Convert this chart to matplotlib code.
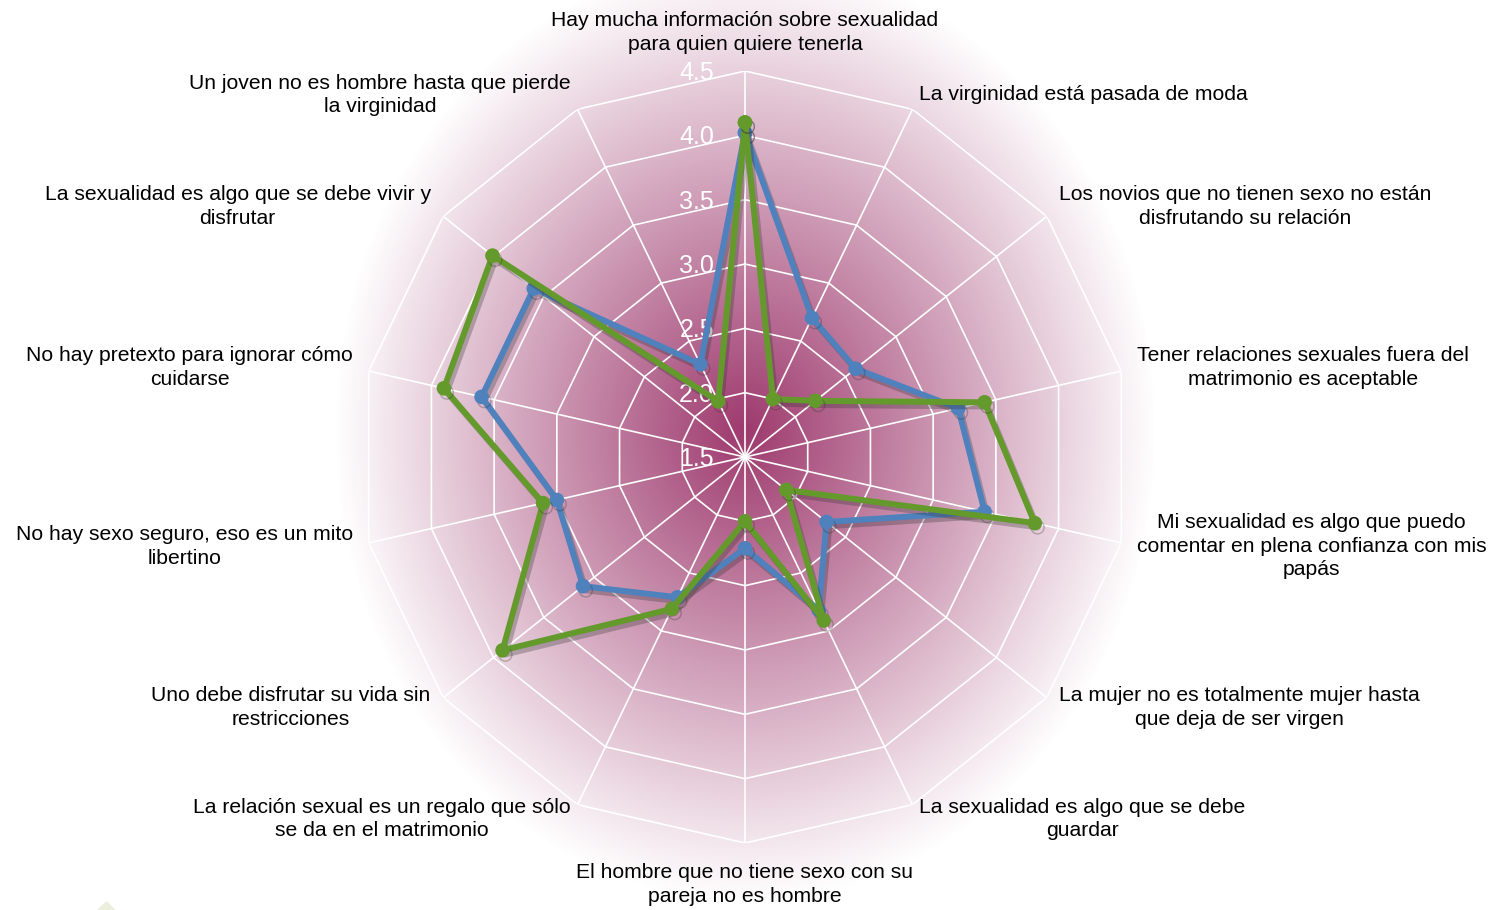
# Radar chart: percepciones sobre sexualidad (dos grupos)
import numpy as np
import matplotlib
matplotlib.use("Agg")
import matplotlib.pyplot as plt
import matplotlib.patheffects as pe
from matplotlib.patches import Polygon

plt.rcParams['font.family'] = ['Liberation Sans', 'DejaVu Sans']

# datos
categorias = [
    "Hay mucha información sobre sexualidad\npara quien quiere tenerla",
    "La virginidad está pasada de moda",
    "Los novios que no tienen sexo no están\ndisfrutando su relación",
    "Tener relaciones sexuales fuera del\nmatrimonio es aceptable",
    "Mi sexualidad es algo que puedo\ncomentar en plena confianza con mis\npapás",
    "La mujer no es totalmente mujer hasta\nque deja de ser virgen",
    "La sexualidad es algo que se debe\nguardar",
    "El hombre que no tiene sexo con su\npareja no es hombre",
    "La relación sexual es un regalo que sólo\nse da en el matrimonio",
    "Uno debe disfrutar su vida sin\nrestricciones",
    "No hay sexo seguro, eso es un mito\nlibertino",
    "No hay pretexto para ignorar cómo\ncuidarse",
    "La sexualidad es algo que se debe vivir y\ndisfrutar",
    "Un joven no es hombre hasta que pierde\nla virginidad",
]
serie_azul = [4.02, 2.70, 2.60, 3.20, 3.41, 2.31, 2.82, 2.21, 2.71, 3.11, 3.00, 3.60, 3.60, 2.30]
serie_verde = [4.10, 2.00, 2.20, 3.41, 3.81, 1.91, 2.91, 2.00, 2.81, 3.91, 3.11, 3.90, 4.01, 1.98]
ticks = [1.5, 2.0, 2.5, 3.0, 3.5, 4.0, 4.5]

W, H = 1504, 910
fig = plt.figure(figsize=(W / 100, H / 100), dpi=100)

# fondo con degradado radial (magenta -> blanco)
bg = fig.add_axes([0, 0, 1, 1])
yy, xx = np.mgrid[0:H, 0:W]
d = np.sqrt(((xx - 745) / 410.0) ** 2 + ((yy - 430) / 470.0) ** 2)
f = np.clip(1 - d, 0, 1)
oscuro = np.array([158, 58, 110]) / 255.0
img = np.ones((H, W, 3)) - f[..., None] * (1 - oscuro)
bg.imshow(img, extent=[0, W, H, 0], aspect='auto')
bg.axis('off')

# pequeno triangulo decorativo abajo a la izquierda
fig.patches.append(Polygon([[97 / W, 0], [116 / W, 0], [106.5 / W, 9 / H]],
                           closed=True, transform=fig.transFigure,
                           facecolor='#EBEFDC', edgecolor='none'))

cx, cy, R = 745, 457, 386
ax = fig.add_axes([(cx - R) / W, (H - cy - R) / H, 2 * R / W, 2 * R / H],
                  projection='polar')
ax.patch.set_alpha(0)
ax.set_theta_zero_location('N')
ax.set_theta_direction(-1)
ax.set_ylim(1.5, 4.5)
ax.set_xticks([])
ax.set_yticks([])
ax.grid(False)
ax.spines['polar'].set_visible(False)

n = len(categorias)
ang = np.linspace(0, 2 * np.pi, n, endpoint=False)
ang_c = np.append(ang, ang[0])

# rejilla poligonal blanca
for r in ticks[1:]:
    ax.plot(ang_c, [r] * (n + 1), color='white', lw=1.2, zorder=1)
for a in ang:
    ax.plot([a, a], [1.5, 4.5], color='white', lw=1.2, zorder=1)

# etiquetas del eje radial
for t in ticks:
    ax.annotate(f"{t:.1f}", xy=(0, t), xytext=(-31, -2), textcoords='offset pixels',
                ha='right', va='center', color='white', fontsize=18, zorder=2)

sombra = [pe.SimpleLineShadow(offset=(2, -3), alpha=0.3, shadow_color='#333333'),
          pe.Normal()]
for vals, col in [(serie_azul, '#4F81BD'), (serie_verde, '#64992C')]:
    v = np.append(vals, vals[0])
    ax.plot(ang_c, v, color=col, lw=4.3, marker='o', markersize=9.5,
            zorder=3, path_effects=sombra, clip_on=False)

# etiquetas de categorias
for a, txt in zip(ang, categorias):
    s, c = np.sin(a), np.cos(a)
    if abs(s) < 1e-6:
        if c > 0:
            off, ha, va = (0, 17), 'center', 'bottom'
        else:
            off, ha, va = (0, -20), 'center', 'top'
    else:
        off = (16 * s, 16 * c)
        ha = 'left' if s > 0 else 'right'
        va = 'center'
    ax.annotate(txt, xy=(a, 4.5), xytext=off, textcoords='offset pixels',
                ha=ha, va=va, multialignment='center', fontsize=15.2,
                linespacing=1.3, color='black', annotation_clip=False)

fig.savefig("out.png", dpi=100)
